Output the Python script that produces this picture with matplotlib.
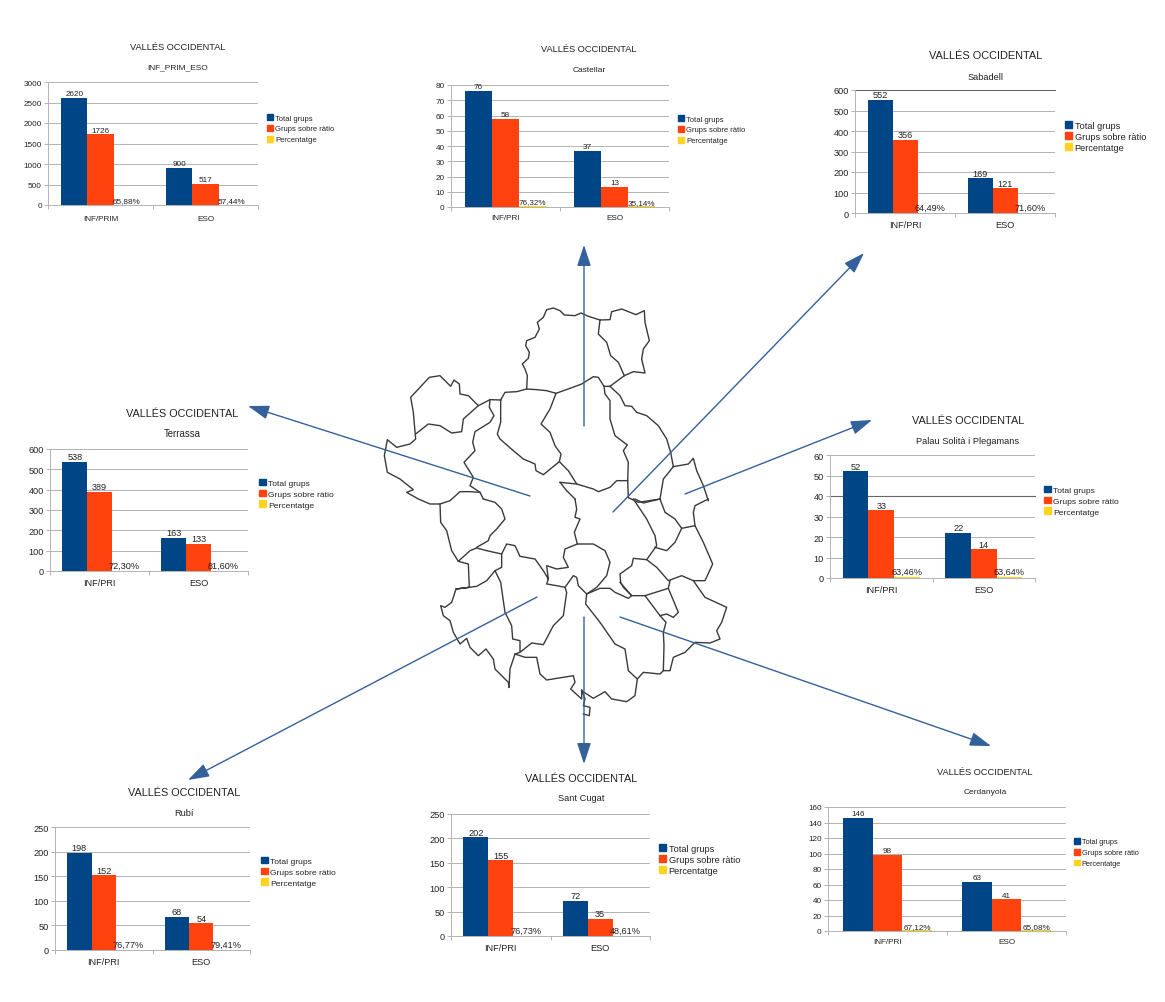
import matplotlib
matplotlib.use("Agg")
import matplotlib.pyplot as plt
from matplotlib.patches import Patch

plt.rcParams['font.family'] = ['Liberation Sans', 'DejaVu Sans']

W, H = 1165, 1003

categories = ["INF/PRI", "ESO"]
categories_all = ["INF/PRIM", "ESO"]
series_names = ["Total grups", "Grups sobre ràtio", "Percentatge"]
main_title = "VALLÉS OCCIDENTAL"

total_all = [2620, 900]
ratio_all = [1726, 517]
pct_all = [65.88, 57.44]

total_castellar = [76, 37]
ratio_castellar = [58, 13]
pct_castellar = [76.32, 35.14]

total_sabadell = [552, 169]
ratio_sabadell = [356, 121]
pct_sabadell = [64.49, 71.60]

total_terrassa = [538, 163]
ratio_terrassa = [389, 133]
pct_terrassa = [72.30, 81.60]

total_palau = [52, 22]
ratio_palau = [33, 14]
pct_palau = [63.46, 63.64]

total_rubi = [198, 68]
ratio_rubi = [152, 54]
pct_rubi = [76.77, 79.41]

total_cugat = [202, 72]
ratio_cugat = [155, 35]
pct_cugat = [76.73, 48.61]

total_cerdanyola = [146, 63]
ratio_cerdanyola = [98, 41]
pct_cerdanyola = [67.12, 65.08]

BLUE = "#004586"
ORANGE = "#ff420e"
YELLOW = "#ffd320"
GRID = "#b3b3b3"
ARROW = "#34609c"
MAP = "#3a3a3a"

# map borders (upper half / lower half crops)
upper_borders = [
    [(440,270),(442,230),(435,210),(427,195),(445,178),(448,160),(437,140),(440,125),(465,115),(478,90),(472,70),(490,55),(500,32),(520,27),(540,35),(553,48),(585,50),(603,42),(625,52),(660,63)],
    [(660,63),(690,62),(695,38),(725,30),(768,47),(793,35),(795,70),(808,125),(790,150),(785,180),(795,222),(760,218),(733,230),(690,262)],
    [(660,63),(655,105),(680,130),(692,170),(715,190),(733,230)],
    [(362,303),(375,280),(410,278),(440,270),(470,272),(500,275),(528,283),(570,268),(605,255),(640,233),(655,235),(672,262),(690,262)],
    [(690,262),(720,290),(735,320),(755,322),(770,340),(800,350),(835,380),(860,420),(872,460),(880,503)],
    [(672,262),(675,285),(690,305),(690,360),(705,410),(742,438),(730,455),(745,490),(743,545),(745,595)],
    [(528,283),(510,330),(483,375),(510,400),(525,440),(543,465),(538,488),(565,515),(590,555),(640,570),(655,578),(690,565),(710,545),(743,545)],
    [(538,488),(490,527),(468,515),(465,495),(430,480),(400,455),(360,420),(352,405),(362,370),(362,303)],
    [(362,303),(330,302),(295,320),(265,290),(240,285),(238,255),(222,243),(212,262),(180,230),(148,235),(120,265),(92,295),(100,340),(107,420),(90,435),(50,445),(22,422),(13,470),(22,520),(60,540),(100,572),(80,580),(115,600),(150,615),(180,615),(210,605),(240,578),(270,578),(300,580)],
    [(107,405),(145,375),(180,380),(215,402),(245,398),(250,360),(295,320)],
    [(330,302),(328,325),(342,350),(330,370),(285,398),(278,430),(285,455),(252,490),(280,535),(270,560),(300,580),(310,600)],
    [(880,503),(925,495),(940,478),(950,515),(970,560),(985,605)],
    [(880,503),(850,540),(840,600)],
    [(743,595),(775,610),(840,600)],
    [(540,550),(590,555)],
    [(540,550),(560,575),(585,600)],
]
lower_borders = [
    [(310,0),(345,10),(365,30),(375,60),(350,90),(330,110),(325,125),(290,145)],
    [(180,15),(182,70),(200,95),(215,155),(235,187),(270,155),(290,147),(320,155),(365,165),(380,135),(405,140),(420,172),(465,180),(490,215),(505,240),(500,255),(530,260),(555,265),(580,230),(590,235),(595,260),(620,285),(650,265),(680,230),(690,190),(675,155),(640,135),(592,135),(555,150),(550,175),(565,205),(530,210),(500,200),(505,240)],
    [(235,187),(265,195),(268,265),(228,270),(290,262),(320,245),(345,215),(365,205),(365,165)],
    [(345,215),(362,250),(375,340),(395,380),(398,420),(420,425),(420,460),(405,465),(390,510),(387,565)],
    [(228,270),(215,310),(195,325),(182,320),(190,350),(210,365),(220,400),(240,435),(260,418),(270,445),(295,470),(318,450),(340,480),(345,510),(385,550),(387,565)],
    [(405,465),(435,475),(470,475),(480,525),(500,543),(580,530),(585,550),(572,570),(605,600),(605,572),(615,600),(610,620),(630,625),(628,650),(610,645)],
    [(605,575),(640,598),(675,578),(695,600),(740,608),(765,590),(772,540)],
    [(420,460),(455,432),(490,437),(520,380),(550,350),(560,280),(555,265)],
    [(620,285),(617,315),(660,370),(705,435),(735,450),(745,515),(772,540),(790,520),(840,525),(850,515),(852,440),(850,400),(858,370),(840,350),(795,290)],
    [(620,285),(660,268),(690,268),(705,280),(745,298),(755,290),(730,265),(722,250),(720,225),(755,200),(760,178),(800,182),(830,140),(825,110),(800,60),(770,15),(760,0)],
    [(800,182),(830,205),(865,245),(905,230),(940,245),(975,245),(998,195),(970,130),(945,80),(905,88),(885,130),(860,155),(825,145)],
    [(840,0),(855,40),(885,60),(905,88)],
    [(945,80),(940,40),(945,20),(985,0)],
    [(765,0),(790,12),(840,0)],
    [(795,290),(865,268),(870,245)],
    [(865,268),(895,340),(880,355),(860,345),(840,350)],
    [(720,250),(755,290),(795,290)],
    [(940,245),(975,295),(1040,325),(1025,370),(1010,395),(1020,420),(990,432),(945,430),(915,460),(880,475),(870,515),(850,515)],
    [(585,0),(590,30),(585,55),(600,60),(583,100),(592,135)],
]
arrows = [
    ((584,427),(584,246)),
    ((613,513),(864,254)),
    ((685,495),(872,421)),
    ((530,497),(248,407)),
    ((537,598),(188,781)),
    ((584,618),(584,765)),
    ((620,618),(991,747)),
]

fig = plt.figure(figsize=(W/100, H/100), dpi=100, facecolor="white")


def draw_chart(rect, title_xy, sub_y, sub, cats, total, ratio, pct, ymax, step, legend_xy,
               fs=5.9, tfs=6.7, sfs=6.0, lfs=5.5, xpad=5, dark_line=None):
    x0, y0, x1, y1 = rect  # pixels, top left origin
    ax = fig.add_axes([x0/W, 1-y1/H, (x1-x0)/W, (y1-y0)/H])
    pos = range(len(cats))
    b1 = ax.bar([p-0.25 for p in pos], total, 0.25, color=BLUE, zorder=3)
    b2 = ax.bar(list(pos), ratio, 0.25, color=ORANGE, zorder=3)
    b3 = ax.bar([p+0.25 for p in pos], [v/100 for v in pct], 0.25, color=YELLOW, zorder=3)
    ax.bar_label(b1, labels=[str(v) for v in total], fontsize=fs, padding=0.5, color="#222222")
    ax.bar_label(b2, labels=[str(v) for v in ratio], fontsize=fs, padding=0.5, color="#222222")
    ax.bar_label(b3, labels=[f"{v:.2f}%".replace(".", ",") for v in pct], fontsize=fs, padding=0.5, color="#222222")
    ax.set_xlim(-0.5, len(cats)-0.5)
    ax.set_ylim(0, ymax)
    ax.set_yticks(list(range(0, ymax+1, step)))
    ax.set_xticks(list(pos))
    ax.set_xticklabels(cats)
    ax.set_xticks([-0.5, 0.5, 1.5], minor=True)
    ax.tick_params(axis="x", which="major", length=0, labelsize=fs, pad=xpad, colors="#222222")
    ax.tick_params(axis="x", which="minor", length=3, color=GRID, width=0.7)
    ax.tick_params(axis="y", length=3, color=GRID, width=0.7, labelsize=fs, pad=1.5, labelcolor="#222222")
    ax.grid(axis="y", color=GRID, lw=0.7, zorder=0)
    ax.set_axisbelow(True)
    for s in ["top", "right"]:
        ax.spines[s].set_visible(False)
    for s in ["left", "bottom"]:
        ax.spines[s].set_color(GRID)
        ax.spines[s].set_linewidth(0.7)
    if dark_line is not None:
        ax.axhline(dark_line, color="#666666", lw=0.8, zorder=1, clip_on=False)
    fig.text(title_xy[0]/W, 1-title_xy[1]/H, main_title, ha="center", va="center", fontsize=tfs, color="#222222")
    fig.text(title_xy[0]/W, 1-sub_y/H, sub, ha="center", va="center", fontsize=sfs, color="#222222")
    handles = [Patch(color=c) for c in (BLUE, ORANGE, YELLOW)]
    # rows are about 10.7 px apart whatever the font size
    fs_px = lfs*100/72
    ax.legend(handles, series_names, loc="upper left", bbox_transform=fig.transFigure,
              bbox_to_anchor=(legend_xy[0]/W, 1-legend_xy[1]/H), frameon=False, fontsize=lfs,
              handlelength=0.8, handleheight=0.8, handletextpad=0.25, labelspacing=(10.7-0.97*fs_px)/fs_px,
              borderpad=0, borderaxespad=0, labelcolor="#222222")


draw_chart((48,83,258,206), (178,48), 68, "INF_PRIM_ESO", categories_all, total_all, ratio_all, pct_all, 3000, 500, (267,115), xpad=7)
draw_chart((451,86,669,208), (589,50), 71, "Castellar", categories, total_castellar, ratio_castellar, pct_castellar, 80, 10, (678,116))
draw_chart((855,91,1055,214), (986,56), 77, "Sabadell", categories, total_sabadell, ratio_sabadell, pct_sabadell, 600, 100, (1065,122),
           fs=6.6, tfs=7.9, sfs=6.7, lfs=6.6, dark_line=600)
draw_chart((50,450,248,572), (182,414), 434, "Terrassa", categories, total_terrassa, ratio_terrassa, pct_terrassa, 600, 100, (259,480),
           fs=6.6, tfs=7.8, sfs=6.9, lfs=6.1)
draw_chart((830,456,1035,579), (968,421), 441, "Palau Solità i Plegamans", categories, total_palau, ratio_palau, pct_palau, 60, 10, (1044,487),
           fs=6.6, tfs=7.8, sfs=6.7, lfs=6.1, dark_line=40)
draw_chart((55,828,250,951), (184,793), 814, "Rubí", categories, total_rubi, ratio_rubi, pct_rubi, 250, 50, (261,858),
           fs=6.6, tfs=7.8, sfs=6.7, lfs=6.1)
draw_chart((451,815,650,937), (581,779), 799, "Sant Cugat", categories, total_cugat, ratio_cugat, pct_cugat, 250, 50, (659,845),
           fs=6.6, tfs=7.8, sfs=6.7, lfs=6.6)
draw_chart((828,808,1066,932), (985,773), 793, "Cerdanyola", categories, total_cerdanyola, ratio_cerdanyola, pct_cerdanyola, 160, 20, (1074,839),
           lfs=5.3)

# overlay in pixel coordinates for the map and the arrows
over = fig.add_axes([0, 0, 1, 1], zorder=5)
over.set_xlim(0, W)
over.set_ylim(H, 0)
over.axis("off")
over.patch.set_alpha(0)

for line in upper_borders:
    over.plot([380+p[0]/3 for p in line], [300+p[1]/3 for p in line], color=MAP, lw=1.0)
for line in lower_borders:
    over.plot([380+p[0]/3 for p in line], [500+p[1]/3 for p in line], color=MAP, lw=1.0)

for tail, tip in arrows:
    over.annotate("", xy=tip, xytext=tail,
                  arrowprops=dict(arrowstyle="-|>,head_length=1.0,head_width=0.33", mutation_scale=13,
                                  color=ARROW, lw=1.0, shrinkA=0, shrinkB=0))

fig.savefig("out.png", dpi=100)
